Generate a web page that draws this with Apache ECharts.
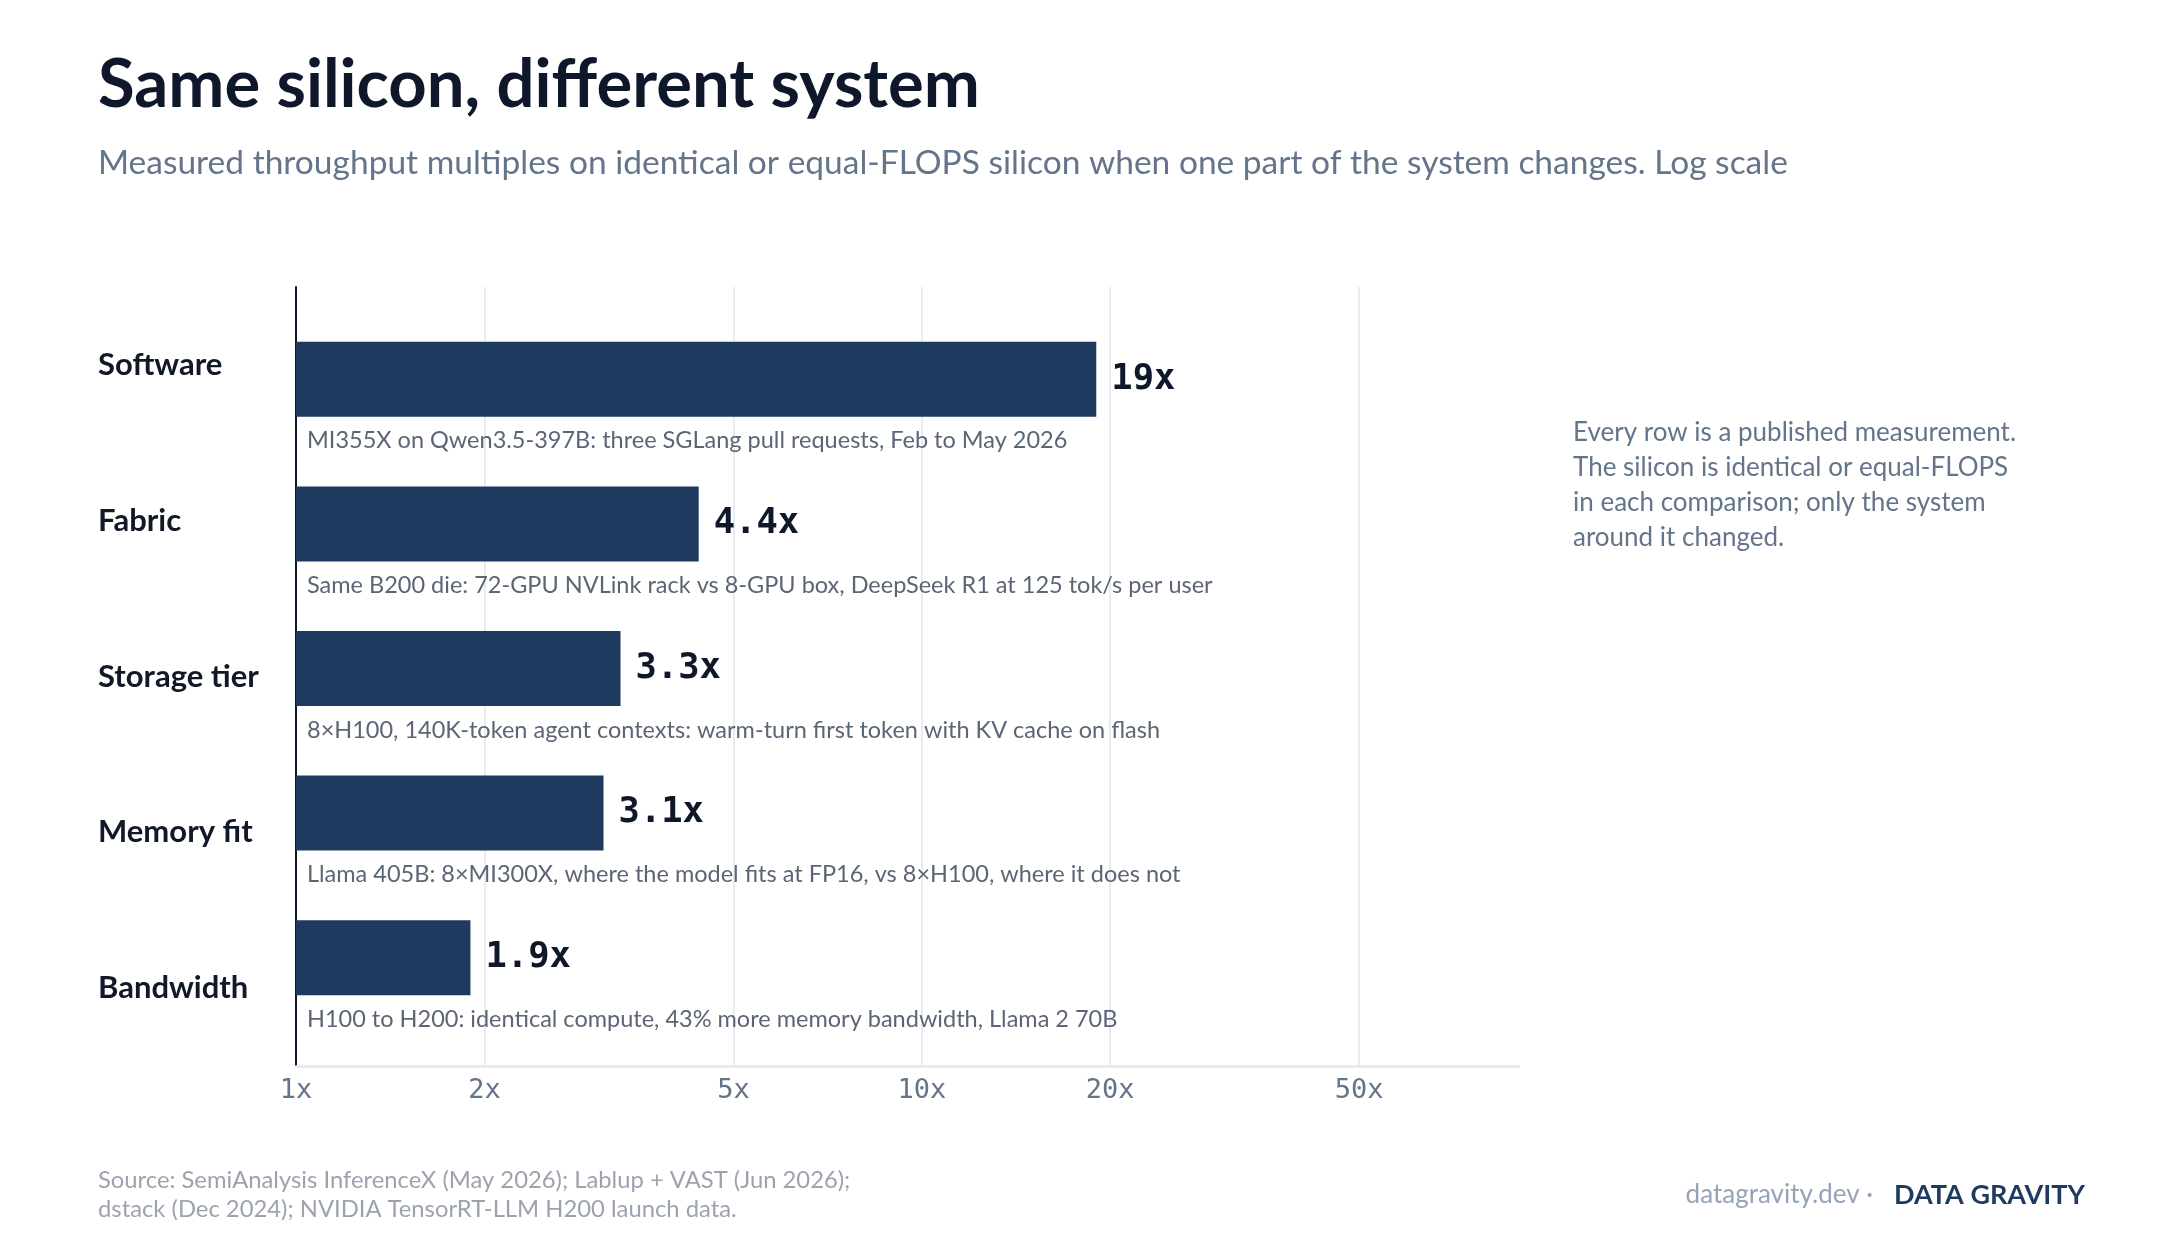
<!DOCTYPE html>
<html>
<head>
<meta charset="utf-8">
<title>Same silicon, different system</title>
<script src="https://cdn.jsdelivr.net/npm/echarts@6/dist/echarts.min.js"></script>
<style>
  html, body { margin: 0; padding: 0; background: #ffffff; }
  #coolgraph { width: 2184px; height: 1240px; }
</style>
</head>
<body>
<div id="coolgraph"></div>
<script>
var categories = ['Software', 'Fabric', 'Storage tier', 'Memory fit', 'Bandwidth'];
var multiples = [19, 4.4, 3.3, 3.1, 1.9];
var valueLabels = ['19x', '4.4x', '3.3x', '3.1x', '1.9x'];
var descriptions = [
  'MI355X on Qwen3.5-397B: three SGLang pull requests, Feb to May 2026',
  'Same B200 die: 72-GPU NVLink rack vs 8-GPU box, DeepSeek R1 at 125 tok/s per user',
  '8\u00d7H100, 140K-token agent contexts: warm-turn first token with KV cache on flash',
  'Llama 405B: 8\u00d7MI300X, where the model fits at FP16, vs 8\u00d7H100, where it does not',
  'H100 to H200: identical compute, 43% more memory bandwidth, Llama 2 70B'
];
var tickValues = [1, 2, 5, 10, 20, 50];

var chartDom = document.getElementById('coolgraph');
var myChart = echarts.init(chartDom);
var option;

var lato = 'Lato, "Noto Sans", sans-serif';
var mono = '"DejaVu Sans Mono", "Liberation Mono", monospace';

option = {
  backgroundColor: '#ffffff',
  animation: false,
  graphic: [
    {
      type: 'text', left: 98, top: 52,
      style: { text: 'Same silicon, different system', fill: '#0f172a', font: 'bold 67px ' + lato }
    },
    {
      type: 'text', left: 98, top: 146,
      style: { text: 'Measured throughput multiples on identical or equal-FLOPS silicon when one part of the system changes. Log scale', fill: '#64748b', font: '33.5px ' + lato }
    },
    {
      type: 'text', left: 1573, top: 415,
      style: {
        text: 'Every row is a published measurement.\nThe silicon is identical or equal-FLOPS\nin each comparison; only the system\naround it changed.',
        fill: '#64748b', font: '26px ' + lato, lineHeight: 35
      }
    },
    {
      type: 'text', left: 98, top: 1166,
      style: {
        text: 'Source: SemiAnalysis InferenceX (May 2026); Lablup + VAST (Jun 2026);\ndstack (Dec 2024); NVIDIA TensorRT-LLM H200 launch data.',
        fill: '#9ca3af', font: '23.8px ' + lato, lineHeight: 29
      }
    },
    {
      type: 'text', right: 99, top: 1182,
      style: { text: 'DATA GRAVITY', fill: '#1e3a5f', font: 'bold 27px ' + lato }
    },
    {
      type: 'text', right: 311, top: 1182,
      style: { text: 'datagravity.dev \u00b7', fill: '#94a3b8', font: '26px ' + lato }
    }
  ],
  grid: [
    { left: 296, top: 287, width: 1223, height: 779 },
    { left: 296, top: 307, width: 1223, height: 723 }
  ],
  xAxis: [
    {
      type: 'log', gridIndex: 0, min: 1, max: 90, logBase: 10,
      axisLine: { show: true, lineStyle: { color: '#e2e8f0', width: 2.5 } },
      axisTick: { show: false, customValues: tickValues },
      axisLabel: {
        customValues: tickValues, margin: 11,
        color: '#64748b', fontFamily: mono, fontSize: 27,
        formatter: function (v) { return v + 'x'; }
      },
      splitLine: { show: true, lineStyle: { color: '#e8ebf0', width: 2 } }
    },
    {
      type: 'log', gridIndex: 1, min: 1, max: 90, logBase: 10,
      show: false, splitLine: { show: false }
    }
  ],
  yAxis: [
    {
      type: 'category', gridIndex: 0, data: categories, inverse: true,
      axisLine: { show: true, lineStyle: { color: '#0f172a', width: 2 } },
      axisTick: { show: false },
      axisLabel: {
        align: 'left', margin: 198, color: '#111827',
        fontFamily: lato, fontWeight: 'bold', fontSize: 31,
        padding: [0, 0, 12, 0]
      },
      splitLine: { show: false }
    },
    {
      type: 'category', gridIndex: 1, data: categories, inverse: true, show: false
    }
  ],
  series: [
    {
      name: 'Multiple',
      type: 'bar',
      xAxisIndex: 1, yAxisIndex: 1,
      barWidth: 75,
      data: multiples,
      itemStyle: { color: '#1f3a5f' },
      label: {
        show: true, position: 'right', distance: 15,
        color: '#0f172a', fontFamily: mono, fontWeight: 'bold', fontSize: 35.5,
        formatter: function (p) { return valueLabels[p.dataIndex]; }
      },
      z: 3
    },
    {
      name: 'Detail',
      type: 'bar',
      xAxisIndex: 1, yAxisIndex: 1,
      barWidth: 75, barGap: '-100%',
      data: multiples,
      itemStyle: { color: 'rgba(0,0,0,0)' },
      label: {
        show: true, position: [11, 99], align: 'left', verticalAlign: 'middle',
        color: '#5b6575', fontFamily: lato, fontSize: 23.5,
        formatter: function (p) { return descriptions[p.dataIndex]; }
      },
      silent: true,
      z: 2
    }
  ]
};

option && myChart.setOption(option);
</script>
</body>
</html>
